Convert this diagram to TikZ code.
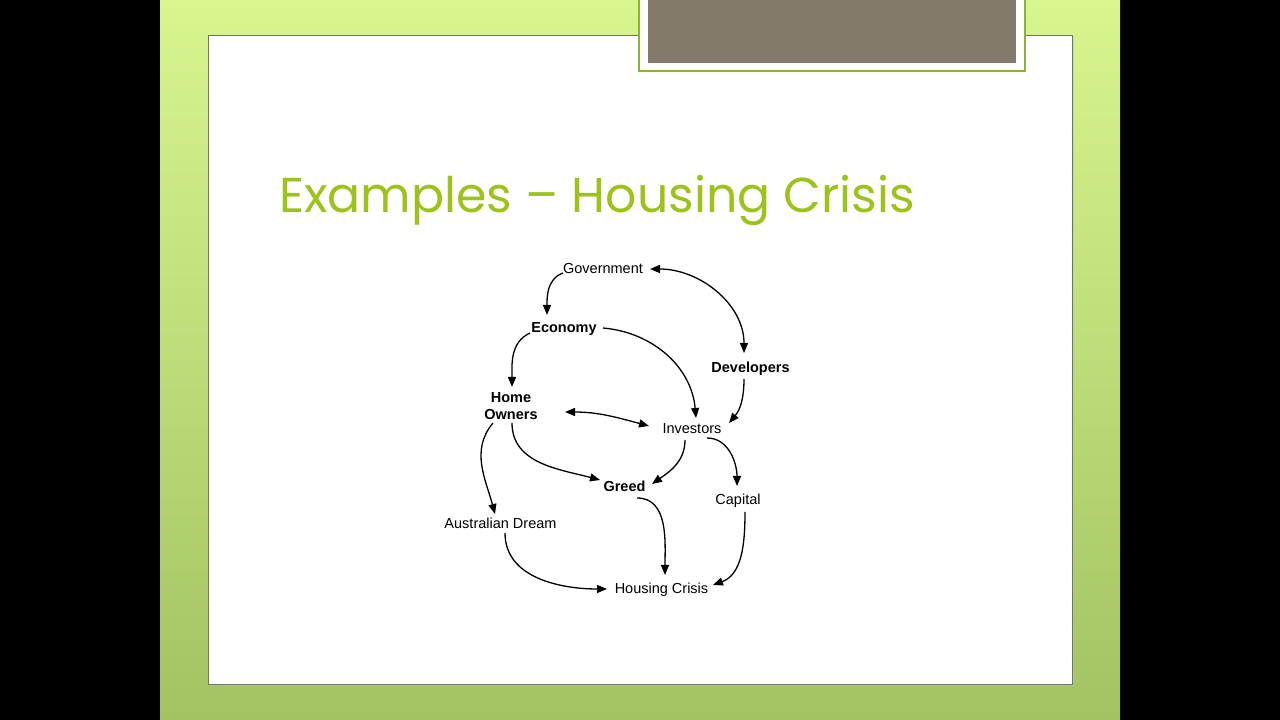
\documentclass[tikz,border=0pt]{standalone}
\usepackage{fontspec}
\setmainfont{Liberation Sans}
\newfontfamily\titlefont{Poppins}
\usetikzlibrary{arrows.meta,calc}
\definecolor{bgtop}{RGB}{216,245,142}
\definecolor{bgbot}{RGB}{163,194,98}
\definecolor{titlegreen}{RGB}{157,195,27}
\definecolor{tabgreen}{RGB}{140,180,50}
\definecolor{tabgrey}{RGB}{131,122,106}
\definecolor{panelline}{RGB}{110,120,95}
\tikzset{
  lbl/.style={inner sep=0pt,anchor=base,font=\fontsize{14.5}{16.5}\selectfont},
  blbl/.style={lbl,font=\fontsize{14.5}{16.5}\selectfont\bfseries},
  arr/.style={line width=1.3pt,-{Triangle[length=10pt,width=8pt]}},
  darr/.style={line width=1.3pt,{Triangle[length=10pt,width=8pt]}-{Triangle[length=10pt,width=8pt]}}
}
\begin{document}
\begin{tikzpicture}[x=1pt,y=1pt]
\useasboundingbox (0,0) rectangle (1280,720);
% background
\fill[black] (0,0) rectangle (1280,720);
\shade[top color=bgtop,bottom color=bgbot] (160,0) rectangle (1120,720);
% panel
\fill[black!25,opacity=0.5] (210,34) rectangle (1074,683);
\filldraw[fill=white,draw=panelline,line width=0.8pt] (208,36) rectangle (1072,685);
% tab
\filldraw[fill=white,draw=tabgreen,line width=1.6pt] (639,649) rectangle (1025,722);
\fill[tabgrey] (648,657) rectangle (1016,721);
% title
\node[inner sep=0pt,anchor=base west,text=titlegreen,font=\titlefont\fontsize{49}{54}\selectfont] (title) at (279,507) {Examples – Housing Crisis};
% nodes
\node[lbl]  (gov)   at (603,446)   {Government};
\node[blbl] (eco)   at (564,387)   {Economy};
\node[blbl] (dev)   at (750.5,347) {Developers};
\node[blbl,anchor=center,align=center] (home) at (511,314) {Home\\Owners};
\node[lbl]  (inv)   at (692,286)   {Investors};
\node[blbl] (greed) at (624.5,228) {Greed};
\node[lbl]  (cap)   at (738,215)   {Capital};
\node[lbl]  (aus)   at (500.5,191) {Australian Dream};
\node[lbl]  (hc)    at (661.5,126) {Housing Crisis};
% edges
\draw[arr]  ($(gov.base)+(-40,1)$)  to[out=200,in=90]  ($(eco.base)+(-17,18)$);
\draw[darr] ($(gov.base)+(47,5)$)   to[out=0,in=90]    ($(dev.base)+(-6.5,20)$);
\draw[arr]  ($(eco.base)+(-34,0)$)  to[out=205,in=90]  ($(home.center)+(1,19)$);
\draw[arr]  ($(eco.base)+(39,5)$)   to[out=-5,in=95]   ($(inv.base)+(4,16)$);
\draw[arr]  ($(dev.base)+(-6.5,-6)$) to[out=-90,in=50] ($(inv.base)+(37,11)$);
\draw[darr] ($(home.center)+(54,-6)$) to[out=0,in=165] ($(inv.base)+(-43,8)$);
\draw[arr]  ($(home.center)+(-18,-17)$) to[out=230,in=105] ($(aus.base)+(-5.5,15)$);
\draw[arr]  ($(home.center)+(1,-17)$) to[out=-90,in=165] ($(greed.base)+(-24.5,12)$);
\draw[arr]  ($(inv.base)+(-7,-6)$)  to[out=-90,in=35]  ($(greed.base)+(27.5,8)$);
\draw[arr]  ($(inv.base)+(15,-4)$)  to[out=0,in=90]    ($(cap.base)+(-1,19)$);
\draw[arr]  ($(greed.base)+(12.5,-6)$) to[out=0,in=90] ($(hc.base)+(3.5,19)$);
\draw[arr]  ($(cap.base)+(7,-7)$)   to[out=-90,in=20]  ($(hc.base)+(51.5,9)$);
\draw[arr]  ($(aus.base)+(4.5,-4)$) to[out=-90,in=180] ($(hc.base)+(-54.5,5)$);
\end{tikzpicture}
\end{document}
